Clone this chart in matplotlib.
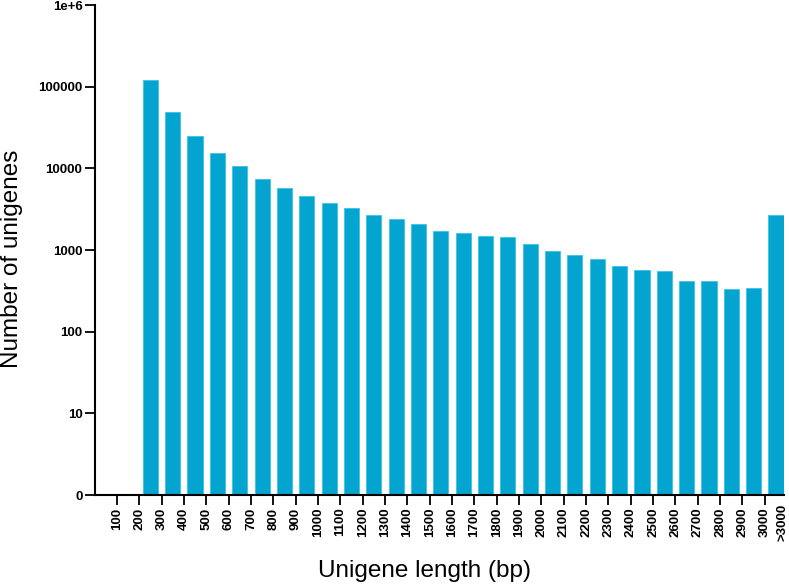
import matplotlib
matplotlib.use("Agg")
import matplotlib.pyplot as plt
from matplotlib import font_manager
import numpy as np

bin_labels = ["100", "200", "300", "400", "500", "600", "700", "800", "900", "1000",
              "1100", "1200", "1300", "1400", "1500", "1600", "1700", "1800", "1900", "2000",
              "2100", "2200", "2300", "2400", "2500", "2600", "2700", "2800", "2900", "3000"]
last_label = ">3000"
counts = [119000, 48500, 25200, 15600, 10800, 7500, 5820, 4520, 3790, 3290,
          2700, 2410, 2100, 1700, 1610, 1480, 1440, 1180, 970, 867,
          774, 636, 568, 552, 417, 417, 333, 342, 2700]
ytick_vals = [1, 10, 100, 1000, 10000, 100000, 1000000]
ytick_labels = ["0", "10", "100", "1000", "10000", "100000", "1e+6"]

plt.rcParams['font.family'] = ['Liberation Sans', 'DejaVu Sans']
names = {f.name for f in font_manager.fontManager.ttflist}
tick_family = ['Liberation Sans Narrow'] if 'Liberation Sans Narrow' in names else ['Liberation Sans']
tick_size = 10.5 if 'Liberation Sans Narrow' in names else 9.5

fig = plt.figure(figsize=(7.89, 5.86), dpi=100)
ax = fig.add_axes([95/789, 1-495/586, (784-95)/789, (495-5)/586])

pos = np.arange(1, len(counts) + 1) + 0.5
ax.bar(pos, counts, width=0.68, bottom=1, color='#03A5D0', edgecolor='#3CC3E6', linewidth=0.6)

ax.set_yscale('log')
ax.set_ylim(1, 1e6)
ax.set_xlim(-0.98, 29.86)
ax.set_yticks(ytick_vals)
ax.set_yticklabels(ytick_labels, fontsize=tick_size, fontweight='bold', family=tick_family)
ax.yaxis.set_minor_locator(matplotlib.ticker.NullLocator())

ax.set_xticks(np.arange(len(bin_labels)))
ax.set_xticklabels(bin_labels, rotation=90, fontsize=tick_size, fontweight='bold', family=tick_family)
ax.text(29.8, -0.017, last_label, transform=ax.get_xaxis_transform(), rotation=90,
        ha='center', va='top', fontsize=tick_size, fontweight='bold', family=tick_family)

for s in ['top', 'right']:
    ax.spines[s].set_visible(False)
for s in ['left', 'bottom']:
    ax.spines[s].set_linewidth(1.5)
ax.tick_params(axis='both', direction='out', length=7, width=1.3, pad=2)

fig.text(12/789, 1-259/586, "Number of unigenes", fontsize=17.5, rotation=90,
         ha='center', va='center')
fig.text(425/789, 1-571/586, "Unigene length (bp)", fontsize=17.5,
         ha='center', va='center')

fig.savefig("out.png", dpi=100)
